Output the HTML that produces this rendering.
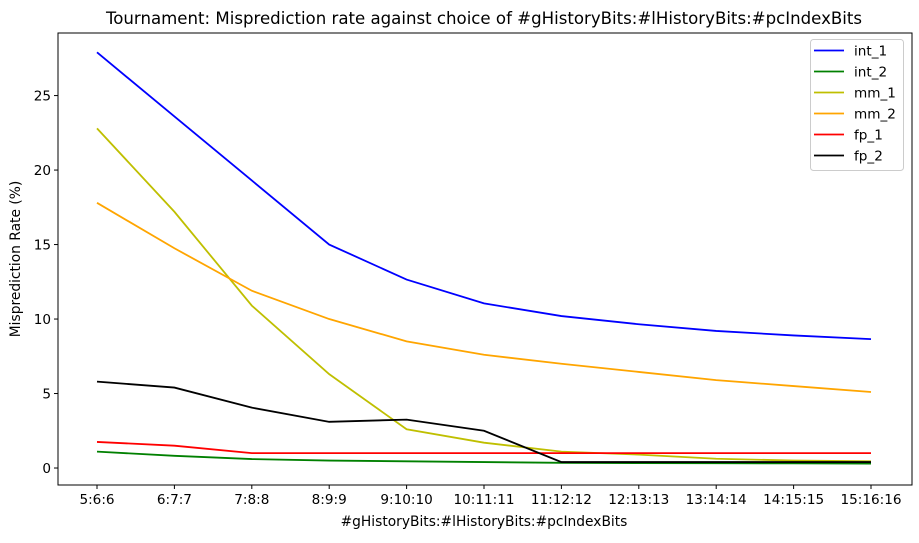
<!DOCTYPE html>
<html><head><meta charset="utf-8"><style>
body{margin:0;background:#fff;}
svg text{font-family:"DejaVu Sans","Liberation Sans",sans-serif;fill:#000;}
</style></head><body>
<svg id="chart" width="919" height="538"></svg>
<script>
const categories=["5:6:6","6:7:7","7:8:8","8:9:9","9:10:10","10:11:11","11:12:12","12:13:13","13:14:14","14:15:15","15:16:16"];
const int_1=[27.9,23.6,19.3,15.0,12.65,11.05,10.2,9.65,9.2,8.9,8.65];
const int_2=[1.1,0.82,0.6,0.5,0.45,0.4,0.35,0.33,0.32,0.31,0.3];
const mm_1=[22.8,17.2,10.9,6.3,2.6,1.7,1.1,0.9,0.62,0.5,0.45];
const mm_2=[17.8,14.75,11.9,10.0,8.5,7.6,7.0,6.45,5.9,5.5,5.1];
const fp_1=[1.75,1.5,1.0,1.0,1.0,1.0,1.0,1.0,1.0,1.0,1.0];
const fp_2=[5.8,5.4,4.05,3.1,3.25,2.5,0.4,0.4,0.4,0.4,0.4];
const seriesNames=["int_1","int_2","mm_1","mm_2","fp_1","fp_2"];
const seriesData=[int_1,int_2,mm_1,mm_2,fp_1,fp_2];
const colors=["#0000ff","#008000","#bfbf00","#ffa500","#ff0000","#000000"];
const yTicks=[0,5,10,15,20,25];

const svg=document.getElementById('chart');
const NS='http://www.w3.org/2000/svg';
const L=58,R=912,T=33,B=485;
const ymin=-1.14,ymax=29.2;
function xs(i){return 97+i*(871-97)/(categories.length-1);}
function ys(v){return B-(v-ymin)/(ymax-ymin)*(B-T);}
function mk(tag,at,parent){const e=document.createElementNS(NS,tag);for(const k in at)e.setAttribute(k,at[k]);(parent||svg).appendChild(e);return e;}

const title=mk('text',{x:484,y:24,'text-anchor':'middle','font-size':16.6});
title.textContent="Tournament: Misprediction rate against choice of #gHistoryBits:#lHistoryBits:#pcIndexBits";



categories.forEach((c,i)=>{
  const x=xs(i);
  const t=mk('line',{x1:x,x2:x,y1:B,y2:B+4,stroke:'#000'});
  
  
  const l=mk('text',{x:x,y:B+19,'text-anchor':'middle','font-size':13.6});
  l.textContent=c;
  
  
});
yTicks.forEach(v=>{
  const y=ys(v);
  const t=mk('line',{x1:L-4,x2:L,y1:y,y2:y,stroke:'#000'});
  
  
  const l=mk('text',{x:L-7,y:y+5,'text-anchor':'end','font-size':13.6});
  l.textContent=v;
  
  
});
const xt=mk('text',{x:484,y:526,'text-anchor':'middle','font-size':13.8});
xt.textContent="#gHistoryBits:#lHistoryBits:#pcIndexBits";


const yt=mk('text',{x:20,y:259,'text-anchor':'middle','font-size':13.8,transform:'rotate(-90 20 259)'});
yt.textContent="Misprediction Rate (%)";



seriesData.forEach((d,s)=>{
  const p=mk('polyline',{points:d.map((v,i)=>xs(i)+','+ys(v)).join(' '),fill:'none',stroke:colors[s],'stroke-width':1.8});
  
  
});

const frame=mk('rect',{x:L,y:T,width:R-L,height:B-T,fill:'none',stroke:'#000','stroke-width':1});



const lg=mk('g',{});


mk('rect',{x:810.5,y:39.5,width:93,height:131,rx:3,fill:'#fff','fill-opacity':0.8,stroke:'#ccc'},lg);
seriesNames.forEach((n,s)=>{
  const y=50.5+s*21;
  const e=mk('g',{},lg);
  
  
  mk('line',{x1:814,x2:844,y1:y,y2:y,stroke:colors[s],'stroke-width':1.8},e);
  const t=mk('text',{x:854,y:y+5,'font-size':13.6},e);
  t.textContent=n;
});
</script>
</body></html>
